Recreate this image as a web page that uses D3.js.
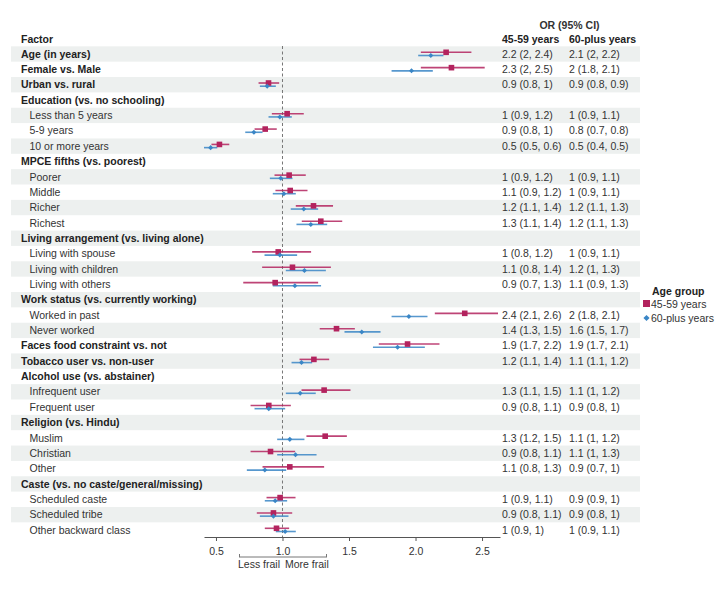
<!DOCTYPE html>
<html><head><meta charset="utf-8">
<script src="https://cdn.jsdelivr.net/npm/d3@7"></script>
<style>
body{margin:0;background:#fff;}
svg{font-family:"Liberation Sans",Arial,sans-serif;}
</style></head>
<body><svg id="c" width="728" height="590"></svg>
<script>
const labels = ["Age (in years)","Female vs. Male","Urban vs. rural","Education (vs. no schooling)","Less than 5 years","5-9 years","10 or more years","MPCE fifths (vs. poorest)","Poorer","Middle","Richer","Richest","Living arrangement (vs. living alone)","Living with spouse","Living with children","Living with others","Work status (vs. currently working)","Worked in past","Never worked","Faces food constraint vs. not","Tobacco user vs. non-user","Alcohol use (vs. abstainer)","Infrequent user","Frequent user","Religion (vs. Hindu)","Muslim","Christian","Other","Caste (vs. no caste/general/missing)","Scheduled caste","Scheduled tribe","Other backward class"];
const isHeader = [1,1,1,1,0,0,0,1,0,0,0,0,1,0,0,0,1,0,0,1,1,1,0,0,1,0,0,0,1,0,0,0];
const or45 = [2.23,2.27,0.895,null,1.035,0.87,0.526,null,1.05,1.058,1.233,1.288,null,0.968,1.075,0.945,null,2.37,1.406,1.94,1.236,null,1.313,0.897,null,1.321,0.91,1.055,null,0.982,0.932,0.955];
const lo45 = [2.04,2.04,0.82,null,0.92,0.79,0.466,null,0.94,0.947,1.1,1.145,null,0.772,0.847,0.705,null,2.145,1.28,1.724,1.128,null,1.143,0.76,null,1.18,0.76,0.85,null,0.88,0.807,0.867];
const hi45 = [2.42,2.52,0.975,null,1.16,0.957,0.6,null,1.175,1.188,1.38,1.449,null,1.215,1.364,1.268,null,2.62,1.544,2.18,1.351,null,1.511,1.063,null,1.484,1.095,1.313,null,1.098,1.073,1.05];
const or60 = [2.115,1.97,0.885,null,0.98,0.785,0.46,null,0.987,1.01,1.16,1.213,null,0.98,1.165,1.093,null,1.95,1.596,1.865,1.143,null,1.133,0.897,null,1.055,1.098,0.867,null,0.945,0.932,1.02];
const lo60 = [2.02,1.82,0.83,null,0.895,0.72,0.41,null,0.905,0.927,1.062,1.105,null,0.865,1.025,0.927,null,1.82,1.466,1.68,1.068,null,1.025,0.79,null,0.96,0.96,0.732,null,0.867,0.83,0.95];
const hi60 = [2.21,2.13,0.95,null,1.07,0.85,0.51,null,1.075,1.1,1.268,1.336,null,1.11,1.326,1.29,null,2.09,1.737,2.07,1.223,null,1.25,1.02,null,1.165,1.256,1.028,null,1.035,1.045,1.1];
const txt45 = ["2.2 (2, 2.4)","2.3 (2, 2.5)","0.9 (0.8, 1)","","1 (0.9, 1.2)","0.9 (0.8, 1)","0.5 (0.5, 0.6)","","1 (0.9, 1.2)","1.1 (0.9, 1.2)","1.2 (1.1, 1.4)","1.3 (1.1, 1.4)","","1 (0.8, 1.2)","1.1 (0.8, 1.4)","0.9 (0.7, 1.3)","","2.4 (2.1, 2.6)","1.4 (1.3, 1.5)","1.9 (1.7, 2.2)","1.2 (1.1, 1.4)","","1.3 (1.1, 1.5)","0.9 (0.8, 1.1)","","1.3 (1.2, 1.5)","0.9 (0.8, 1.1)","1.1 (0.8, 1.3)","","1 (0.9, 1.1)","0.9 (0.8, 1.1)","1 (0.9, 1)"];
const txt60 = ["2.1 (2, 2.2)","2 (1.8, 2.1)","0.9 (0.8, 0.9)","","1 (0.9, 1.1)","0.8 (0.7, 0.8)","0.5 (0.4, 0.5)","","1 (0.9, 1.1)","1 (0.9, 1.1)","1.2 (1.1, 1.3)","1.2 (1.1, 1.3)","","1 (0.9, 1.1)","1.2 (1, 1.3)","1.1 (0.9, 1.3)","","2 (1.8, 2.1)","1.6 (1.5, 1.7)","1.9 (1.7, 2.1)","1.1 (1.1, 1.2)","","1.1 (1, 1.2)","0.9 (0.8, 1)","","1.1 (1, 1.2)","1.1 (1, 1.3)","0.9 (0.7, 1)","","0.9 (0.9, 1)","0.9 (0.8, 1)","1 (0.9, 1.1)"];
const xTicks = [0.5,1.0,1.5,2.0,2.5];
const groups = ["45-59 years","60-plus years"];

const C45 = "#b3235e", C60 = "#3a86c6";
const svg = d3.select("#c");
const fs = "10.5px";
const x = d3.scaleLinear().domain([0.41, 2.635]).range([204, 500]);
const idx = d3.range(labels.length);
const y = d3.scalePoint().domain(idx).range([54, 530]);
const step = y.step();

// stripes
svg.append("g").selectAll("rect").data(idx.filter(i => i % 2 === 0)).join("rect")
  .attr("x", 11).attr("width", 629).attr("y", i => y(i) - step/2).attr("height", step)
  .attr("fill", "#edf0ef");

// header
svg.append("text").attr("x", 21).attr("y", 39).attr("dy", "0.35em").attr("font-weight", "bold")
  .attr("font-size", fs).attr("fill", "#222").text("Factor");
svg.append("text").attr("x", 569.5).attr("y", 25).attr("dy", "0.35em").attr("text-anchor", "middle")
  .attr("font-weight", "bold").attr("font-size", fs).attr("fill", "#333").text("OR (95% CI)");
svg.append("text").attr("x", 502).attr("y", 39).attr("dy", "0.35em").attr("font-weight", "bold")
  .attr("font-size", fs).attr("fill", "#222").text(groups[0]);
svg.append("text").attr("x", 569).attr("y", 39).attr("dy", "0.35em").attr("font-weight", "bold")
  .attr("font-size", fs).attr("fill", "#222").text(groups[1]);

// labels
svg.append("g").selectAll("text").data(idx).join("text")
  .attr("x", i => isHeader[i] ? 21 : 29.5).attr("y", i => y(i)).attr("dy", "0.35em")
  .attr("font-size", fs).attr("font-weight", i => isHeader[i] ? "bold" : "normal")
  .attr("fill", i => isHeader[i] ? "#222" : "#333").text(i => labels[i]);

// table values
const tv = svg.append("g").attr("font-size", fs).attr("fill", "#333");
tv.selectAll("text.a").data(idx).join("text").attr("class", "a")
  .attr("x", 502).attr("y", i => y(i)).attr("dy", "0.35em").text(i => txt45[i]);
tv.selectAll("text.b").data(idx).join("text").attr("class", "b")
  .attr("x", 569).attr("y", i => y(i)).attr("dy", "0.35em").text(i => txt60[i]);

// reference line
svg.append("line").attr("x1", x(1)).attr("x2", x(1)).attr("y1", 46).attr("y2", 537)
  .attr("stroke", "#777").attr("stroke-width", 1).attr("stroke-dasharray", "3,2.5");

// axis
const ax = svg.append("g").attr("transform", "translate(0,537)")
  .call(d3.axisBottom(x).tickValues(xTicks).tickFormat(d3.format(".1f")).tickSize(4).tickSizeOuter(0));
ax.select(".domain").attr("stroke", "#555");
ax.selectAll(".tick line").attr("stroke", "#555");
ax.selectAll(".tick text").attr("font-size", fs).attr("fill", "#333").attr("font-family", "Liberation Sans, Arial, sans-serif").attr("dy", "1.05em");

// frail bracket
const bk = svg.append("g").attr("stroke", "#777").attr("stroke-width", 1);
bk.append("line").attr("x1", 239).attr("x2", 327).attr("y1", 557).attr("y2", 557);
bk.append("line").attr("x1", 239.5).attr("x2", 239.5).attr("y1", 554).attr("y2", 557);
bk.append("line").attr("x1", 326.5).attr("x2", 326.5).attr("y1", 554).attr("y2", 557);
svg.append("text").attr("x", 280).attr("y", 564).attr("dy", "0.35em").attr("text-anchor", "end")
  .attr("font-size", fs).attr("fill", "#333").text("Less frail");
svg.append("text").attr("x", 285).attr("y", 564).attr("dy", "0.35em")
  .attr("font-size", fs).attr("fill", "#333").text("More frail");

// CIs and points
const data = idx.filter(i => or45[i] != null);
const g = svg.append("g");
g.selectAll("line.c45").data(data).join("line").attr("class", "c45")
  .attr("x1", i => x(lo45[i])).attr("x2", i => x(hi45[i]))
  .attr("y1", i => y(i) - 1.7).attr("y2", i => y(i) - 1.7)
  .attr("stroke", C45).attr("stroke-width", 1.6).attr("stroke-opacity", 0.85);
g.selectAll("line.c60").data(data).join("line").attr("class", "c60")
  .attr("x1", i => x(lo60[i])).attr("x2", i => x(hi60[i]))
  .attr("y1", i => y(i) + 1.5).attr("y2", i => y(i) + 1.5)
  .attr("stroke", C60).attr("stroke-width", 1.6).attr("stroke-opacity", 0.85);
g.selectAll("rect.p45").data(data).join("rect").attr("class", "p45")
  .attr("x", i => x(or45[i]) - 2.8).attr("y", i => y(i) - 1.7 - 2.8)
  .attr("width", 5.6).attr("height", 5.6).attr("fill", C45);
g.selectAll("path.p60").data(data).join("path").attr("class", "p60")
  .attr("transform", i => `translate(${x(or60[i])},${y(i) + 1.5})`)
  .attr("d", d3.symbol(d3.symbolDiamond2, 16)).attr("fill", C60);

// legend
svg.append("text").attr("x", 652).attr("y", 291).attr("dy", "0.35em").attr("font-weight", "bold")
  .attr("font-size", fs).attr("fill", "#222").text("Age group");
svg.append("rect").attr("x", 643).attr("y", 300).attr("width", 7).attr("height", 7).attr("fill", C45);
svg.append("text").attr("x", 651).attr("y", 304).attr("dy", "0.35em").attr("font-size", fs).attr("fill", "#333").text(groups[0]);
svg.append("path").attr("transform", "translate(646.5,318)").attr("d", d3.symbol(d3.symbolDiamond2, 24)).attr("fill", C60);
svg.append("text").attr("x", 651).attr("y", 318).attr("dy", "0.35em").attr("font-size", fs).attr("fill", "#333").text(groups[1]);
</script></body></html>
